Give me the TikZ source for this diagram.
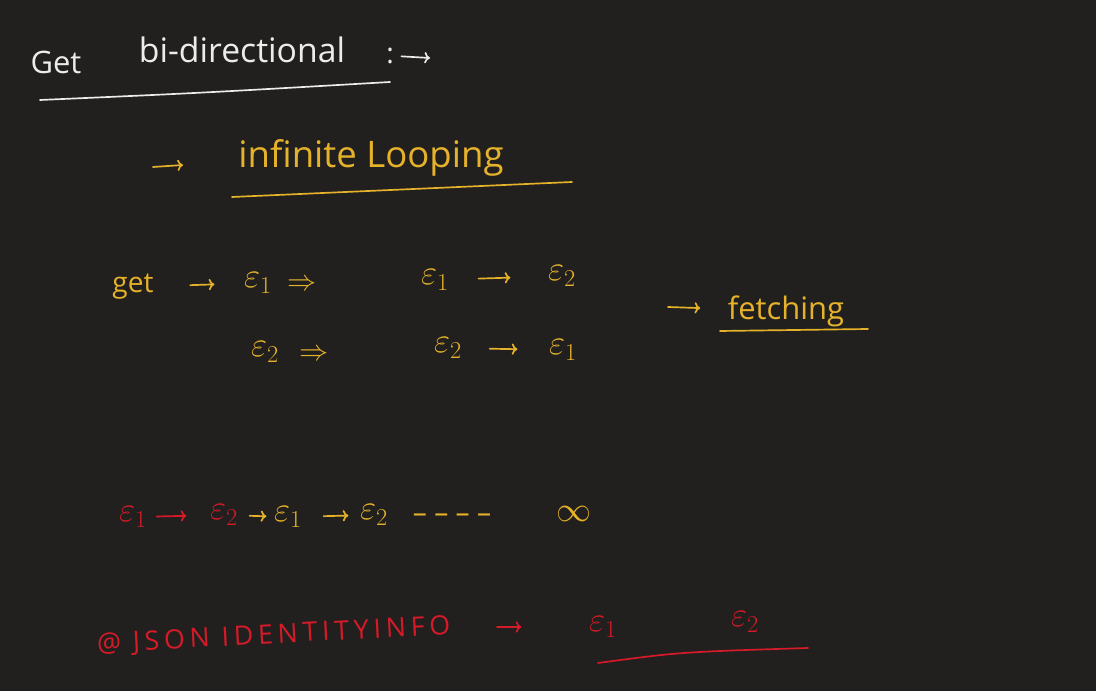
\documentclass[tikz,border=0pt]{standalone}
\usepackage{fontspec}
\setmainfont{Open Sans}
\usetikzlibrary{positioning,arrows.meta}
\definecolor{board}{RGB}{33,32,31}
\definecolor{chalk}{RGB}{236,236,236}
\definecolor{gold}{RGB}{230,178,42}
\definecolor{redink}{RGB}{214,26,40}
\tikzset{hand/.style={font=\fontsize{20}{24}\selectfont,inner sep=1pt}}
\tikzset{eps/.style={hand,font=\fontsize{26}{28}\selectfont}}
\tikzset{ink/.style={line width=1.2pt,line cap=round}}
\tikzset{arr/.style={ink,-{To[length=4pt,width=8pt]}}}

\begin{document}
\begin{tikzpicture}[x=0.25mm,y=-0.25mm]
    \fill[board] (0,0) rectangle (1096,691);
    \useasboundingbox (0,0) rectangle (1096,691);
    % heading
    \node[hand,chalk,font=\fontsize{22}{26}\selectfont] (get) at (56,62) {Get};
    \node[hand,chalk,font=\fontsize{24}{28}\selectfont] (bidir) at (242,50) {bi-directional};
    \node[hand,chalk] (colon) at (390,56) {:};
    \coordinate (headend) at (430,58);
    \draw[arr,chalk,shorten <=1.5mm] (colon.east) -- (headend);
    \draw[ink,chalk] (40,100) .. controls (200,93) .. (390,82);
    % infinite looping
    \coordinate (loopfrom) at (153,167);
    \coordinate (loopto) at (183,165);
    \node[hand,gold,font=\fontsize{26}{30}\selectfont] (loop) at (371,158) {infinite Looping};
    \draw[arr,gold] (loopfrom) -- (loopto);
    \draw[ink,gold] (232,197) -- (572,182);
    % get
    \node[hand,gold] (getcall) at (133,287) {get};
    \node[eps,gold] (ea) at (258,283) {$\varepsilon_1$};
    \node[hand,gold] (impa) at (302,285) {$\Rightarrow$};
    \node[eps,gold] (eb) at (265,352) {$\varepsilon_2$};
    \node[hand,gold] (impb) at (314,355) {$\Rightarrow$};
    \node[eps,gold] (ec) at (435,280) {$\varepsilon_1$};
    \node[eps,gold] (ed) at (562,276) {$\varepsilon_2$};
    \node[eps,gold] (ee) at (448,348) {$\varepsilon_2$};
    \node[eps,gold] (ef) at (563,350) {$\varepsilon_1$};
    \draw[arr,gold,shorten <=8.75mm,shorten >=7mm] (getcall) -- (ea);
    \draw[arr,gold,shorten <=7mm,shorten >=9mm] (ec) -- (ed);
    \draw[arr,gold,shorten <=6.5mm,shorten >=7.5mm] (ee) -- (ef);
    % fetching
    \coordinate (fetchfrom) at (668,307);
    \node[hand,gold,font=\fontsize{22}{26}\selectfont] (fetch) at (786,311) {fetching};
    \draw[arr,gold,shorten >=6.5mm] (fetchfrom) -- (fetch);
    \draw[ink,gold] (720,331) -- (868,329);
    % loop chain
    \node[eps,redink] (ra) at (133,517) {$\varepsilon_1$};
    \node[eps,redink] (rb) at (224,515) {$\varepsilon_2$};
    \node[eps,gold] (ga) at (288,517) {$\varepsilon_1$};
    \node[eps,gold] (gb) at (374,515) {$\varepsilon_2$};
    \node[hand,gold] (dots) at (452,518) {-- -- -- --};
    \node[hand,gold,font=\fontsize{28}{30}\selectfont] (inf) at (574,514) {$\infty$};
    \draw[arr,redink,shorten <=2mm,shorten >=5.5mm] (ra) -- (rb);
    \draw[arr,gold,shorten <=2.5mm,shorten >=1.5mm] (rb) -- (ga);
    \draw[arr,gold,shorten <=5mm,shorten >=2.5mm] (ga) -- (gb);
    % annotation
    \node[hand,redink,anchor=east,rotate=3,font=\fontsize{19}{22}\selectfont\addfontfeature{LetterSpace=18}] (json) at (452,627) {@ JSON IDENTITYINFO};
    \node[eps,redink] (ja) at (603,627) {$\varepsilon_1$};
    \node[eps,redink] (jb) at (745,622) {$\varepsilon_2$};
    \draw[arr,redink,shorten <=11.25mm,shorten >=16.5mm] (json.east) -- (ja);
    \draw[ink,redink] (598,663) .. controls (680,652) .. (808,648);
\end{tikzpicture}
\end{document}
